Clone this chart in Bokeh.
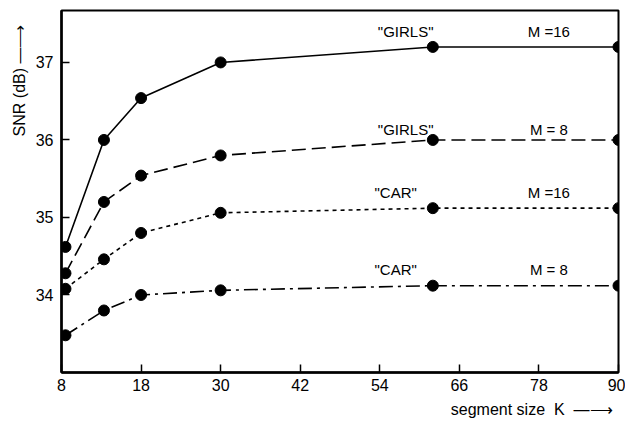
from bokeh.plotting import figure
from bokeh.models import Range1d, FixedTicker, Title
from bokeh.embed import file_html
from bokeh.resources import INLINE
from bokeh.core.properties import value

# segment-size positions as drawn on the K axis (first tick is labelled "8")
k_pos = [6.6, 12.4, 18, 30, 62, 90]
girls_m16 = [34.62, 36.0, 36.54, 37.0, 37.2, 37.2]
girls_m8 = [34.28, 35.2, 35.54, 35.8, 36.0, 36.0]
car_m16 = [34.08, 34.46, 34.8, 35.06, 35.12, 35.12]
car_m8 = [33.48, 33.8, 34.0, 34.06, 34.12, 34.12]

x_ticks = [6, 18, 30, 42, 54, 66, 78, 90]
x_tick_labels = ["8", "18", "30", "42", "54", "66", "78", "90"]
y_ticks = [34, 35, 36, 37]

image_names = ['"GIRLS"', '"GIRLS"', '"CAR"', '"CAR"']
m_labels = ["M =16", "M = 8", "M =16", "M = 8"]

FONT = "Liberation Sans"

p = figure(width=625, height=430, output_backend="svg", toolbar_location=None,
           x_range=Range1d(6, 90), y_range=Range1d(33.0, 37.67),
           min_border_left=61, min_border_right=7, min_border_top=10, min_border_bottom=58)
p.grid.visible = False
p.outline_line_color = "black"
p.outline_line_width = 2
p.background_fill_color = "white"
p.border_fill_color = "white"

for ax in (p.xaxis[0], p.yaxis[0]):
    ax.axis_line_width = 2.5
    ax.axis_line_color = "black"
    ax.major_tick_in = 8
    ax.major_tick_out = 0
    ax.major_tick_line_width = 1.5
    ax.minor_tick_line_color = None
    ax.major_label_text_font = FONT
    ax.major_label_text_font_size = "16px"
    ax.major_label_text_color = "black"

p.xaxis[0].ticker = FixedTicker(ticks=x_ticks)
p.xaxis[0].major_label_overrides = {t: l for t, l in zip(x_ticks, x_tick_labels)}
p.xaxis[0].major_label_standoff = 6
p.yaxis[0].ticker = FixedTicker(ticks=y_ticks)
p.yaxis[0].major_label_standoff = 8

series = [girls_m16, girls_m8, car_m16, car_m8]
dashes = ["solid", "14 6", "4 4", "14 5 3 5"]
for ys, d in zip(series, dashes):
    p.line(k_pos, ys, line_color="black", line_width=1.6, line_dash=d)
    p.scatter(k_pos, ys, size=11, fill_color="black", line_color="black")

name_x = [57.9, 57.9, 56.4, 56.4]
name_y = [37.4, 36.14, 35.32, 34.33]
m_x = [79.5, 79.5, 79.5, 79.5]
p.text(name_x, name_y, text=image_names, text_font=value(FONT), text_font_size="15px",
       text_align="center", text_baseline="middle", text_color="black")
p.text(m_x, name_y, text=m_labels, text_font=value(FONT), text_font_size="15px",
       text_align="center", text_baseline="middle", text_color="black")

ytitle = Title(text="SNR (dB) \u2014\u27f6", align="right", text_font=FONT,
               text_font_size="16px", text_font_style="normal", text_color="black",
               offset=14)
p.add_layout(ytitle, "left")
xtitle = Title(text="segment size\u00a0\u00a0K\u00a0\u00a0\u2014\u27f6", align="right", text_font=FONT,
               text_font_size="16px", text_font_style="normal", text_color="black",
               offset=6)
p.add_layout(xtitle, "below")

open("out.html", "w").write(file_html(p, INLINE))
